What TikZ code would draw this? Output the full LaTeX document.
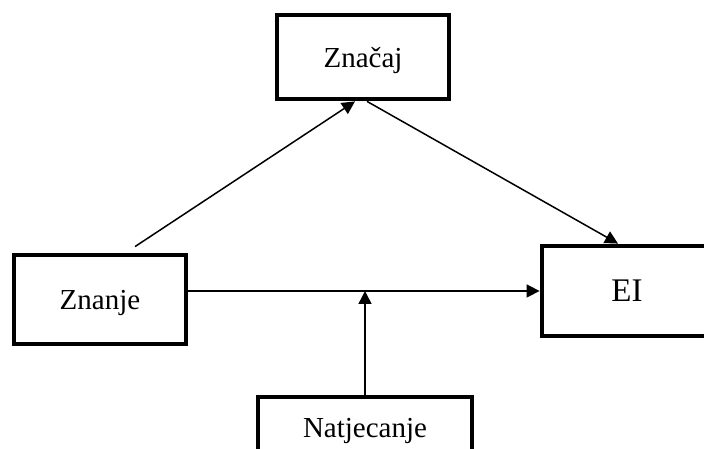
\documentclass[tikz,border=0pt]{standalone}
\usepackage{fontspec}
\setmainfont{Liberation Serif}
\usetikzlibrary{calc,arrows.meta}
\newcommand{\mysize}[1]{\fontsize{14.5}{17}\selectfont{#1}}
\newcommand{\bigsize}[1]{\fontsize{16.5}{19}\selectfont{#1}}
\def\boxline{2.4pt}
\def\arrowline{0.75pt}

\begin{document}
\begin{tikzpicture}[x=0.5pt,y=0.5pt]
\tikzset{
  block/.style={draw, rectangle, line width=\boxline, inner sep=0pt, text depth=0pt},
  link/.style={line width=\arrowline, -{Triangle[length=6.5pt,width=6.5pt]}}
}

\clip (0,0) rectangle (704,448);

% BLOCKS
\node[block, minimum width=86pt, minimum height=42pt] (znacaj) at (363,391) {\mysize{Značaj}};
\node[block, minimum width=86pt, minimum height=44.5pt] (znanje) at (100,148.5) {\mysize{Znanje}};
\node[block, minimum width=85pt, minimum height=45pt] (ei) at (627,157) {\bigsize{EI}};
\node[block, minimum width=107pt, minimum height=31pt] (natjecanje) at (365,20) {\mysize{Natjecanje}};

% LINKS
\draw[link] ($(znanje.north)+(35,6)$) -- ($(znacaj.south)+(-8,0)$);
\draw[link] ($(znacaj.south)+(4,0)$) -- ($(ei.north)+(-9,0)$);
\draw[link] (znanje.east |- ei.west) -- (ei.west);
\coordinate (join) at (natjecanje.north |- ei.west);
\draw[link] (natjecanje.north) -- (join);
\end{tikzpicture}
\end{document}
